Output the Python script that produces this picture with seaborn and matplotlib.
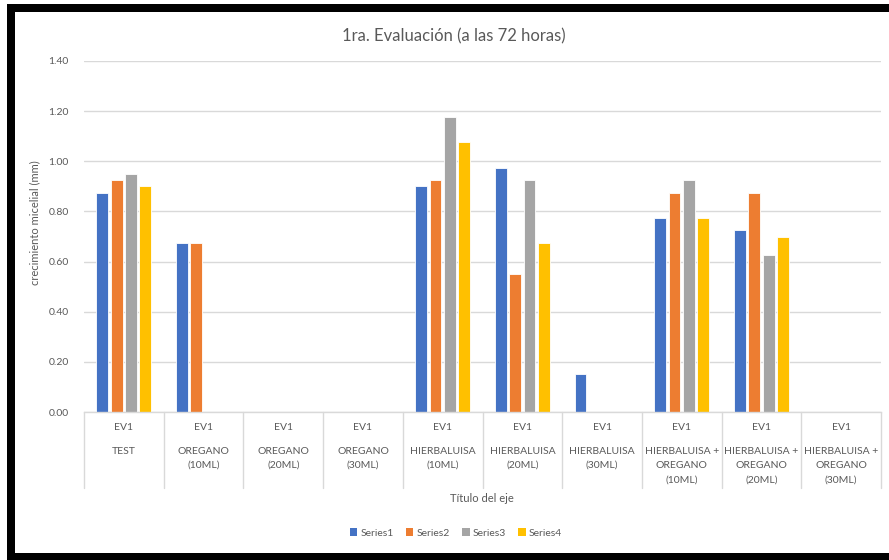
import numpy as np
import pandas as pd
import matplotlib
matplotlib.use("Agg")
import matplotlib.pyplot as plt
import matplotlib.transforms as mtransforms
from matplotlib.patches import Rectangle, Patch
from matplotlib.lines import Line2D
import seaborn as sns

# ---- data -------------------------------------------------------------
categories = [
    "TEST",
    "OREGANO\n(10ML)",
    "OREGANO\n(20ML)",
    "OREGANO\n(30ML)",
    "HIERBALUISA\n(10ML)",
    "HIERBALUISA\n(20ML)",
    "HIERBALUISA\n(30ML)",
    "HIERBALUISA +\nOREGANO\n(10ML)",
    "HIERBALUISA +\nOREGANO\n(20ML)",
    "HIERBALUISA +\nOREGANO\n(30ML)",
]
outer_label = "EV1"
series_names = ["Series1", "Series2", "Series3", "Series4"]
series1 = [0.875, 0.675, 0.0, 0.0, 0.900, 0.975, 0.150, 0.775, 0.725, 0.0]
series2 = [0.925, 0.675, 0.0, 0.0, 0.925, 0.550, 0.0, 0.875, 0.875, 0.0]
series3 = [0.950, 0.0, 0.0, 0.0, 1.175, 0.925, 0.0, 0.925, 0.625, 0.0]
series4 = [0.900, 0.0, 0.0, 0.0, 1.075, 0.675, 0.0, 0.775, 0.700, 0.0]
y_ticks = [0.0, 0.2, 0.4, 0.6, 0.8, 1.0, 1.2, 1.4]

title = "1ra. Evaluación (a las 72 horas)"
x_title = "Título del eje"
y_title = "crecimiento micelial (mm)"

colors = ["#4472C4", "#ED7D31", "#A5A5A5", "#FFC000"]
text_gray = "#595959"
grid_gray = "#D9D9D9"

rows = []
for name, vals in zip(series_names, [series1, series2, series3, series4]):
    for cat, v in zip(categories, vals):
        rows.append({"cat": cat, "series": name, "value": v})
df = pd.DataFrame(rows)

# ---- figure -----------------------------------------------------------
sns.set_style("white")
plt.rcParams["font.family"] = ["Lato", "DejaVu Sans"]

W, H = 889, 560
fig = plt.figure(figsize=(W / 100, H / 100), dpi=100)
fig.patch.set_facecolor("white")

def fx(px):
    return px / W

def fy(py):
    return 1 - py / H

ax_left, ax_right, ax_top, ax_bottom = 84, 881, 61, 412
ax = fig.add_axes([fx(ax_left), fy(ax_bottom), (ax_right - ax_left) / W,
                   (ax_bottom - ax_top) / H])

sns.barplot(data=df, x="cat", y="value", hue="series", order=categories,
            hue_order=series_names, palette=colors, saturation=1,
            width=0.72, gap=0.18, edgecolor="white", linewidth=0.6,
            errorbar=None, legend=False, ax=ax)

ax.set_xlim(-0.5, len(categories) - 0.5)
ax.set_ylim(0, 1.4)
ax.set_yticks(y_ticks)
ax.set_yticklabels([f"{t:.2f}" for t in y_ticks], fontsize=7.5, color=text_gray)
ax.tick_params(axis="y", length=0, pad=11)
ax.set_xticks([])
ax.set_xlabel("")
ax.set_ylabel(y_title, fontsize=8, color=text_gray)
ax.yaxis.set_label_coords((40 - ax_left) / (ax_right - ax_left),
                          (ax_bottom - 223) / (ax_bottom - ax_top))
ax.grid(axis="y", color=grid_gray, linewidth=1.0)
ax.set_axisbelow(True)
for side in ["left", "right", "top"]:
    ax.spines[side].set_visible(False)
ax.spines["bottom"].set_color(grid_gray)
ax.spines["bottom"].set_linewidth(1.0)

# category table under the axis
trans = mtransforms.blended_transform_factory(ax.transData, fig.transFigure)
for i in range(len(categories) + 1):
    fig.add_artist(Line2D([i - 0.5, i - 0.5], [fy(412), fy(488)],
                          transform=trans, color=grid_gray, linewidth=1.0))
for i, cat in enumerate(categories):
    fig.text(i, fy(428), outer_label, transform=trans, ha="center",
             va="center", fontsize=7.5, color=text_gray)
    for j, line in enumerate(cat.split("\n")):
        fig.text(i, fy(451 + 14.5 * j), line, transform=trans, ha="center",
                 va="center", fontsize=7.5, color=text_gray)

fig.text(fx(482), fy(498), x_title, ha="center", va="center", fontsize=8,
         color=text_gray)
fig.text(fx(454), fy(36), title, ha="center", va="center", fontsize=12,
         color=text_gray)

handles = [Patch(facecolor=c, edgecolor="none") for c in colors]
fig.legend(handles, series_names, loc="center", ncol=4,
           bbox_to_anchor=(fx(456), fy(533)), frameon=False, fontsize=7.5,
           labelcolor=text_gray, handlelength=0.7, handleheight=0.7,
           handletextpad=0.3, columnspacing=1.2)

# dark frame around the chart
for x0, y0, w, h in [(7, 4, 8, 556), (7, 4, W - 7, 8), (7, 553, W - 7, 7)]:
    fig.add_artist(Rectangle((fx(x0), fy(y0 + h)), w / W, h / H,
                             transform=fig.transFigure, facecolor="black",
                             edgecolor="none"))

fig.savefig("out.png", dpi=100)
